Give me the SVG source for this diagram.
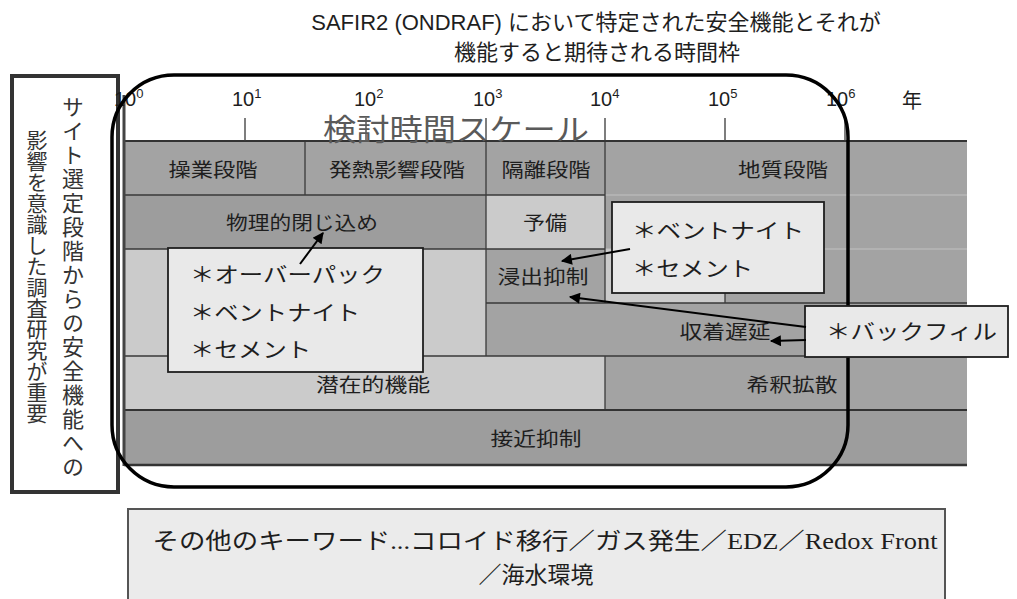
<svg xmlns="http://www.w3.org/2000/svg" width="1017" height="599" viewBox="0 0 1017 599">
<defs>
<marker id="ah" viewBox="0 0 10 10" refX="9" refY="5" markerWidth="6.5" markerHeight="5.5" orient="auto" markerUnits="strokeWidth"><path d="M0,0 L10,5 L0,10 z" fill="#000"/></marker>
</defs>
<style>
.jp{font-family:"Liberation Sans","Noto Sans CJK JP",sans-serif}
.dk{fill:#a3a3a3}
.dk2{fill:#9d9d9d}
.lt{fill:#cbcbcb}
.lbl{font-family:"Noto Sans CJK JP",sans-serif;font-size:19px;fill:#1e1e1e;text-anchor:middle;dominant-baseline:central}
.note{font-family:"Noto Sans CJK JP",sans-serif;font-size:21px;fill:#1e1e1e;dominant-baseline:central}
.box{fill:#e9e9e9;stroke:#1e1e1e;stroke-width:1.8}
.g{stroke:#3a3a3a;stroke-width:1.3;fill:none}
.gf{stroke:#c2c2c2;stroke-width:1.2;fill:none}
.ax{font-family:"Liberation Sans",sans-serif;font-size:20px;fill:#1e1e1e}
.sup{font-size:13px}
.tick{stroke:#3a3a3a;stroke-width:1.3}
.arr{stroke:#000;stroke-width:2;fill:none;marker-end:url(#ah)}
.vt{font-family:"Noto Sans CJK JP",sans-serif;fill:#333;writing-mode:vertical-rl}
</style>
<rect width="1017" height="599" fill="#fff"/>

<g id="title" class="jp" font-size="22" fill="#1e1e1e" text-anchor="middle">
<text x="596" y="30">SAFIR2 (ONDRAF) において特定された安全機能とそれが</text>
<text x="597" y="60">機能すると期待される時間枠</text>
</g>

<g id="side-note">
<rect x="12" y="76" width="106" height="416" fill="#fff" stroke="#333" stroke-width="4"/>
<text class="vt" x="73" y="96" font-size="22" letter-spacing="2">サイト選定段階からの安全機能への</text>
<text class="vt" x="37" y="130" font-size="21">影響を意識した調査研究が重要</text>
</g>

<g id="table">
<rect class="dk" x="124" y="141" width="181" height="54"/>
<rect class="dk" x="305" y="141" width="181" height="54"/>
<rect class="dk" x="486" y="141" width="119" height="54"/>
<rect class="dk" x="605" y="141" width="362" height="162"/>
<rect class="dk2" x="124" y="195" width="362" height="54"/>
<rect class="lt" x="486" y="195" width="119" height="54"/>
<rect class="dk" x="486" y="249" width="119" height="54"/>
<rect class="lt" x="605" y="249" width="120" height="54"/>
<rect class="lt" x="124" y="249" width="362" height="107"/>
<rect class="dk" x="486" y="303" width="481" height="53"/>
<rect class="lt" x="124" y="356" width="481" height="54"/>
<rect class="dk" x="605" y="356" width="362" height="54"/>
<rect class="dk2" x="124" y="410" width="843" height="55"/>
<path class="gf" d="M605,195 H967 M605,249 H967"/>
<path class="g" d="M124,195 H605 M124,249 H605 M486,303 H967 M124,356 H967 M305,141 V195 M486,141 V356 M605,141 V303 M605,356 V410 M725,293 V303"/>
<path stroke="#333" stroke-width="2" d="M124,141 H967 M124,410 H967"/>
<path stroke="#333" stroke-width="2.5" d="M124,465 H967"/>
<path stroke="#444" stroke-width="3" d="M124,95 V466"/>
</g>

<g id="axis">
<path class="tick" d="M245,118 V141 M366,118 V141 M486,118 V141 M605,118 V141 M725,118 V141 M845,118 V141"/>
<text class="ax" x="114" y="106">10<tspan class="sup" dy="-8">0</tspan></text>
<text class="ax" x="232" y="106">10<tspan class="sup" dy="-8">1</tspan></text>
<text class="ax" x="354" y="106">10<tspan class="sup" dy="-8">2</tspan></text>
<text class="ax" x="473" y="106">10<tspan class="sup" dy="-8">3</tspan></text>
<text class="ax" x="590" y="106">10<tspan class="sup" dy="-8">4</tspan></text>
<text class="ax" x="708" y="106">10<tspan class="sup" dy="-8">5</tspan></text>
<text class="ax" x="826" y="106">10<tspan class="sup" dy="-8">6</tspan></text>
<text x="912" y="108" font-family="Noto Sans CJK JP,sans-serif" font-size="20" fill="#1e1e1e" text-anchor="middle">年</text>
<text x="456" y="127" font-family="Noto Sans CJK JP,sans-serif" font-size="30" fill="#5a5a5a" text-anchor="middle" dominant-baseline="central" textLength="266" lengthAdjust="spacingAndGlyphs">検討時間スケール</text>
</g>

<g id="labels">
<text class="lbl" x="213" y="168" textLength="89" lengthAdjust="spacingAndGlyphs">操業段階</text>
<text class="lbl" x="397" y="168" textLength="136" lengthAdjust="spacingAndGlyphs">発熱影響段階</text>
<text class="lbl" x="546" y="168" textLength="89" lengthAdjust="spacingAndGlyphs">隔離段階</text>
<text class="lbl" x="783" y="168" textLength="90" lengthAdjust="spacingAndGlyphs">地質段階</text>
<text class="lbl" x="302" y="221" textLength="152" lengthAdjust="spacingAndGlyphs">物理的閉じ込め</text>
<text class="lbl" x="545" y="221" textLength="44" lengthAdjust="spacingAndGlyphs">予備</text>
<text class="lbl" x="543" y="275" textLength="91" lengthAdjust="spacingAndGlyphs">浸出抑制</text>
<text class="lbl" x="725" y="330" textLength="91" lengthAdjust="spacingAndGlyphs">収着遅延</text>
<text class="lbl" x="373" y="383" textLength="114" lengthAdjust="spacingAndGlyphs">潜在的機能</text>
<text class="lbl" x="792" y="383" textLength="91" lengthAdjust="spacingAndGlyphs">希釈拡散</text>
<text class="lbl" x="536" y="437" textLength="91" lengthAdjust="spacingAndGlyphs">接近抑制</text>
</g>

<g id="scope">
<rect x="112" y="75" width="736" height="412" rx="62" ry="62" fill="none" stroke="#000" stroke-width="3.5"/>
</g>

<g id="box-overpack">
<rect class="box" x="168" y="248" width="255" height="124"/>
<text class="note" x="190" y="273" textLength="195" lengthAdjust="spacingAndGlyphs">＊オーバーパック</text>
<text class="note" x="190" y="311" textLength="170" lengthAdjust="spacingAndGlyphs">＊ベントナイト</text>
<text class="note" x="190" y="348" textLength="121" lengthAdjust="spacingAndGlyphs">＊セメント</text>
</g>

<g id="box-bentonite">
<rect class="box" x="612" y="202" width="212" height="91"/>
<text class="note" x="632" y="229" textLength="172" lengthAdjust="spacingAndGlyphs">＊ベントナイト</text>
<text class="note" x="632" y="267" textLength="121" lengthAdjust="spacingAndGlyphs">＊セメント</text>
</g>

<g id="box-backfill">
<rect class="box" x="805" y="306" width="203" height="51"/>
<text class="note" x="826" y="330" textLength="171" lengthAdjust="spacingAndGlyphs">＊バックフィル</text>
</g>

<g id="connectors">
<line class="arr" x1="300" y1="264" x2="323" y2="233"/>
<line class="arr" x1="630" y1="249" x2="562" y2="261"/>
<line class="arr" x1="806" y1="327" x2="570" y2="297"/>
<line class="arr" x1="806" y1="340" x2="771" y2="341"/>
</g>

<g id="keywords">
<rect x="128" y="509" width="817" height="100" fill="#ebebeb" stroke="#555" stroke-width="2"/>
<text x="545" y="541" font-family="Liberation Serif,Noto Sans CJK JP,serif" font-size="23" fill="#1e1e1e" text-anchor="middle" dominant-baseline="central" textLength="785" lengthAdjust="spacingAndGlyphs">その他のキーワード...コロイド移行／ガス発生／EDZ／Redox Front</text>
<text x="536" y="575" font-family="Liberation Serif,Noto Sans CJK JP,serif" font-size="23" fill="#1e1e1e" text-anchor="middle" dominant-baseline="central">／海水環境</text>
</g>
</svg>
